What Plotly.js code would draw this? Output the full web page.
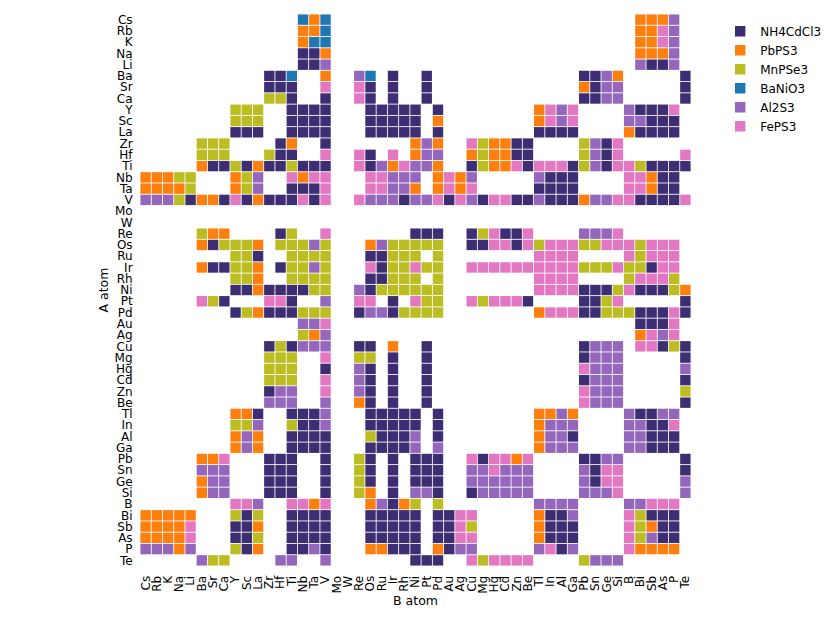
<!DOCTYPE html>
<html><head><meta charset="utf-8">
<script src="https://cdn.plot.ly/plotly-3.0.1.min.js"></script>
<style>body{margin:0;background:#fff}</style>
</head><body><div id="chart" style="width:830px;height:623px"></div>
<script>
const bAtoms = ["Cs","Rb","K","Na","Li","Ba","Sr","Ca","Y","Sc","La","Zr","Hf","Ti","Nb","Ta","V","Mo","W","Re","Os","Ru","Ir","Rh","Ni","Pt","Pd","Au","Ag","Cu","Mg","Hg","Cd","Zn","Be","Tl","In","Al","Ga","Pb","Sn","Ge","Si","B","Bi","Sb","As","P","Te"];
const aAtoms = ["Cs","Rb","K","Na","Li","Ba","Sr","Ca","Y","Sc","La","Zr","Hf","Ti","Nb","Ta","V","Mo","W","Re","Os","Ru","Ir","Rh","Ni","Pt","Pd","Au","Ag","Cu","Mg","Hg","Cd","Zn","Be","Tl","In","Al","Ga","Pb","Sn","Ge","Si","B","Bi","Sb","As","P","Te"];
const categories = ["NH4CdCl3","PbPS3","MnPSe3","BaNiO3","Al2S3","FePS3"];
const codes = ["N","O","M","B","A","F"];
// one string per A atom (row), one character per B atom (column); '.' = no structure
const grid = [
"..... ..... ....B OB... ..... ..... ..... ..... ....O OOA.",
"..... ..... ....O OB... ..... ..... ..... ..... ....O OFA.",
"..... ..... ....O BB... ..... ..... ..... ..... ....O OFA.",
"..... ..... ....N NO... ..... ..... ..... ..... ....O OOA.",
"..... ..... ....N NA... ..... ..... ..... ..... ....A NNA.",
"..... ..... .NNB. .O..A B.N.. N.... ..... ....N NAO.. ...N",
"..... ..... .NNN. .F..F N.N.. N.... ..... ....O NAA.. ...N",
"..... ..... .MMN. .N..F N.N.. N.... ..... ....N NAA.. ...N",
"..... ...MM M..NN NN... NNNNN .N... ..... OFAF. ...AN NNF.",
"..... ...MM M..NN NN... NNNNN .O... ..... OFAF. ...AA NNN.",
"..... ...NN N..NN NN... NNNNN .N... ..... NNNN. ...ON NNN.",
"..... MMM.. ..NO. .N... ....O AO..F MOONN ....M ANF.. ....",
"..... MMM.. .MNN. .F..F N.F.O AA..O MOONN ....M ANF.. ...F",
"..... ONNMN ONNMN NN..F NAOFA AO..N MOOFN FFFNM ANFFM NNNN",
"OOOMM ...OM A..FO FF... FFAAA .OFOA ..... ANNN. ...FF ONN.",
"OOOOM ...OM A..NN NF... FFAAO .OFOF ..... NNNN. ...FF ONN.",
"AAAMN OONFN ONNNF NF..F AAANA AFNFA NFFNN ANNNO AAFFN NNNF",
"..... ..... ..... ..... ..... ..... ..... ..... ..... ....",
"..... ..... ..... ..... ..... ..... ..... ..... ..... ....",
"..... MOO.. ..NM. .F... ....N NN..N MFNNF ....A AAF.. ....",
"..... ONMMM O.MMM AM... OAMMM MM..N NFFNF MFFFM MFFFM FFF.",
"..... ...MM N..MM MM... NNMMM .M... ..... FFFF. ...FM FFF.",
"..... ONNMM O.NMM AM... FNMMF MM..F FFFFF FFFFM MMFMM NFF.",
"..... ...MM O..MM MM... NNMMM .M... ..... FFFF. ...MF FFM.",
"..... ...NN ONNNN MM..A NMMMM MM... ..... FFFFN NNMFN NNMO",
"..... FMN.. .FFN. .A..F F.N.F MM..F MFFFN ....N NMF.. ...N",
"..... ...NM ONNNM MM..N AANMM MM... ..... OFFFN NMMMN NNFN",
"..... ..... ....A AF... ..... ..... ..... ..... ....N NNF.",
"..... ..... ....M OA... ..... ..... ..... ..... ....O FAF.",
"..... ..... .NMNA AA..N N.O.. N.... ..... ....N AAA.F FNMN",
"..... ..... .MMM. .F..M M.N.. N.... ..... ....N AAA.. ...N",
"..... ..... .MMM. .N..A N.N.. N.... ..... ....F AAA.. ...A",
"..... ..... .MMM. .F..A N.N.. N.... ..... ....N AAA.. ...N",
"..... ..... .NAA. .F..A N.N.. N.... ..... ....F AAA.. ...M",
"..... ..... .AAA. .A..O N.N.. N.... ..... ....F AAA.. ...N",
"..... ...OO N..NN NA... NNNNN .N... ..... OOAO. ...AN NAA.",
"..... ...MM A..MN NA... NNNNN .N... ..... OAAA. ...AA NNF.",
"..... ...OA O..NN NN... MNNNA .N... ..... OAAN. ...AA NNN.",
"..... ...OA O..NN NN... NNNNA .A... ..... OAAA. ...AA NNN.",
"..... OOF.. .NNN. .N..M N.N.N NN..F NFFOF ....N NAA.. ...N",
"..... AAA.. .NNN. .N..M N.N.N NN..A AFAAA ....A NFF.. ...N",
"..... OAA.. .NNN. .N..M N.N.N NN..A AAAAA ....A NFF.. ...A",
"..... OAA.. .NNN. .N..M O.N.A AN..N AAAAA ....A AAF.. ...A",
"..... ...FF A..FF OF... OANOM .M... ..... AAAA. ...AA FFF.",
"OOOOO ...MN M..NN NN... NNNNN .NNFF ..... ONNA. ...FM NNN.",
"OOOOF ...NN O..NN NN... NNNNN .NNFM ..... ONNN. ...FM ONN.",
"OOOOF ...NN M..NN NN... NNNNN .NNFF ..... ONNN. ...FM ANN.",
"AAAOA ...MN O..NN AN... OONNN .ONAA ..... AFNA. ...FO OOO.",
"..... AMM.. ..AA. .A... ....N NN..F MFFFF ....M AAA.. ...."
];
const colors = ["#3d2d72","#ff7f0e","#bcbd22","#1f77b4","#9467bd","#e377c2"];
const FONT = "DejaVu Sans, Liberation Sans, sans-serif";

const rows = grid.map(r => r.replace(/ /g, ""));
const traces = categories.map((name, k) => {
  const xs = [], ys = [];
  rows.forEach((r, i) => {
    for (let j = 0; j < r.length; j++) {
      if (r[j] === codes[k]) { xs.push(bAtoms[j]); ys.push(aAtoms[i]); }
    }
  });
  return {
    type: "scatter", mode: "markers", name: name, x: xs, y: ys,
    marker: {symbol: "square", size: 10.4, color: colors[k], line: {width: 0}},
    hoverinfo: "x+y+name"
  };
});

const layout = {
  width: 830, height: 623,
  margin: {l: 140, r: 139, t: 14, b: 57, autoexpand: false},
  paper_bgcolor: "#fff", plot_bgcolor: "#fff",
  font: {family: FONT, size: 12, color: "#000"},
  showlegend: true,
  legend: {x: 1.053, y: 0.995, xanchor: "left", yanchor: "top", font: {family: FONT, size: 12, color: "#000"}, bgcolor: "rgba(0,0,0,0)", tracegroupgap: 0},
  xaxis: {
    type: "category", categoryorder: "array", categoryarray: bAtoms,
    tickmode: "array", tickvals: bAtoms, ticktext: bAtoms,
    range: [-0.5, 48.5], tickangle: -90, showgrid: false, zeroline: false, showline: false,
    ticks: "outside", ticklen: 4, tickcolor: "rgba(0,0,0,0)",
    tickfont: {family: FONT, size: 12, color: "#000"},
    title: {text: "B atom", font: {family: FONT, size: 12.5, color: "#000"}, standoff: 3}
  },
  yaxis: {
    type: "category", categoryorder: "array", categoryarray: aAtoms,
    tickmode: "array", tickvals: aAtoms, ticktext: aAtoms,
    range: [48.5, -0.5], showgrid: false, zeroline: false, showline: false,
    ticks: "outside", ticklen: 4, tickcolor: "rgba(0,0,0,0)",
    tickfont: {family: FONT, size: 12, color: "#000"},
    title: {text: "A atom", font: {family: FONT, size: 12.5, color: "#000"}, standoff: 3}
  }
};
Plotly.newPlot("chart", traces, layout, {displayModeBar: false, staticPlot: true});
</script></body></html>
